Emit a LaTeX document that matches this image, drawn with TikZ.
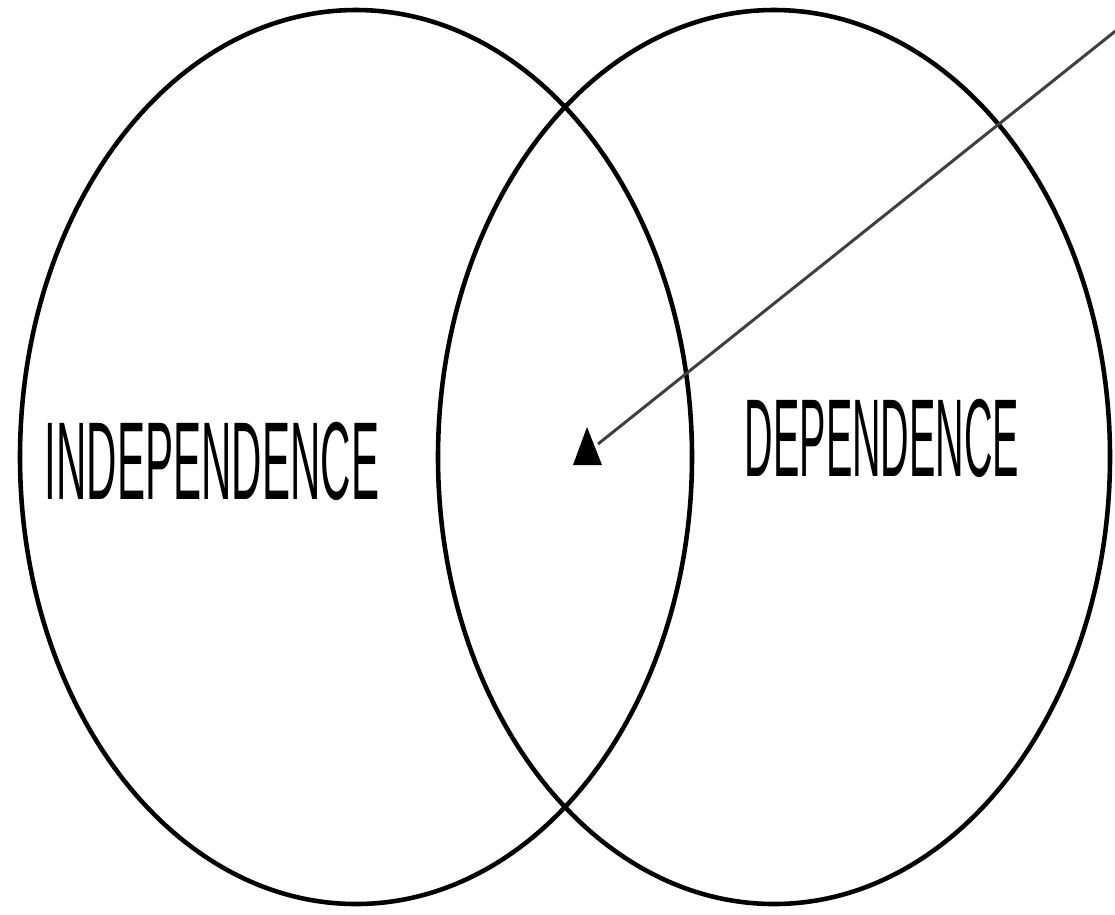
\documentclass[tikz,border=0pt]{standalone}
\usepackage{graphicx}
\usepackage{fontspec}
\setmainfont{Liberation Sans}
\usetikzlibrary{positioning}
\newcommand{\narrowtext}[2]{\scalebox{#1}[1]{#2}}

\begin{document}
\begin{tikzpicture}[
  x=0.02cm, y=-0.02cm,
  set/.style={draw, line width=2.6pt},
  lbl/.style={inner sep=0pt, font=\fontsize{63}{63}\selectfont},
  arr/.style={line width=1.7pt, draw=black!75}]
\useasboundingbox (0,0) rectangle (1115,914);
\draw[set] (356,457) ellipse [x radius=336, y radius=447];
\draw[set] (774,457) ellipse [x radius=336, y radius=447];
\node[lbl] (indep) at (212,461) {\narrowtext{0.38}{INDEPENDENCE}};
\node[lbl] (dep) at (882,438) {\narrowtext{0.357}{DEPENDENCE}};
\coordinate (corner) at (1118,29);
\coordinate (tip) at (598,444);
\fill (573,465) -- (602,465) -- (587,427) -- cycle;
\draw[arr] (corner) -- (tip);
\end{tikzpicture}
\end{document}
